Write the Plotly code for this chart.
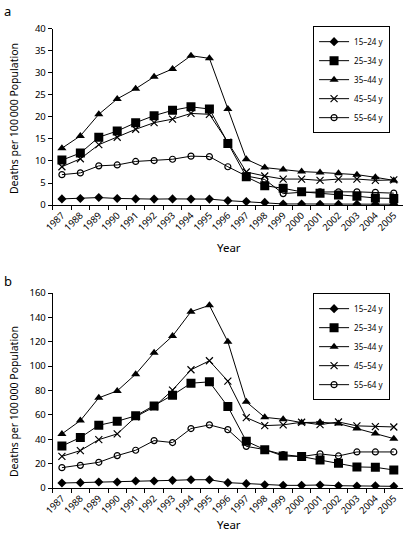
import plotly.graph_objects as go

years = [str(y) for y in range(1987, 2006)]
groups = ["15\u201324 y", "25\u201334 y", "35\u201344 y", "45\u201354 y", "55\u201364 y"]

# Panel a
a_15_24 = [1.4, 1.5, 1.7, 1.5, 1.4, 1.35, 1.4, 1.35, 1.35, 1.0, 0.8, 0.6, 0.25, 0.25, 0.2, 0.2, 0.2, 0.2, 0.2]
a_25_34 = [10.2, 11.8, 15.4, 16.8, 18.7, 20.3, 21.5, 22.3, 21.8, 14.0, 6.4, 4.4, 3.8, 3.0, 2.7, 2.3, 2.0, 1.6, 1.5]
a_35_44 = [12.9, 15.7, 20.6, 24.1, 26.4, 29.1, 30.9, 33.9, 33.3, 21.8, 10.4, 8.5, 8.1, 7.6, 7.4, 7.2, 6.9, 6.3, 5.6]
a_45_54 = [8.7, 10.5, 13.7, 15.4, 17.2, 18.7, 19.5, 20.8, 20.6, 14.3, 7.5, 6.6, 5.9, 5.9, 5.6, 5.9, 5.9, 5.6, 5.7]
a_55_64 = [6.9, 7.3, 8.9, 9.1, 9.9, 10.1, 10.4, 11.1, 11.0, 8.7, 6.6, 5.8, 2.6, 2.9, 3.0, 3.0, 3.0, 2.9, 2.7]

# Panel b
b_15_24 = [4.1, 4.4, 4.9, 4.9, 5.8, 5.8, 6.3, 6.8, 6.8, 4.4, 3.6, 2.7, 2.2, 2.2, 2.5, 1.9, 1.6, 1.9, 1.4]
b_25_34 = [34.5, 41.4, 51.5, 54.8, 59.2, 67.4, 76.2, 86.0, 87.1, 66.8, 38.4, 31.5, 26.3, 25.8, 23.0, 20.3, 17.3, 17.0, 14.8]
b_35_44 = [44.4, 55.3, 74.0, 79.7, 93.4, 111.0, 124.7, 144.7, 149.9, 120.0, 70.7, 58.0, 56.4, 53.7, 54.0, 52.9, 48.8, 44.7, 40.5]
b_45_54 = [26.0, 30.7, 39.7, 44.4, 58.4, 66.6, 80.3, 97.0, 104.4, 87.7, 57.8, 51.2, 51.8, 54.0, 52.0, 54.2, 51.0, 50.4, 50.1]
b_55_64 = [16.7, 18.6, 21.1, 26.6, 31.0, 38.9, 37.3, 48.8, 51.8, 47.9, 34.2, 31.5, 27.4, 25.8, 28.0, 26.3, 29.6, 29.6, 29.6]

a_ticks = [0, 5, 10, 15, 20, 25, 30, 35, 40]
b_ticks = [0, 20, 40, 60, 80, 100, 120, 140, 160]

styles = [
    dict(symbol="diamond", size=7, color="black"),
    dict(symbol="square", size=9, color="black"),
    dict(symbol="triangle-up", size=8, color="black"),
    dict(symbol="x-thin", size=7, color="black", line=dict(width=1.2, color="black")),
    dict(symbol="circle-open", size=6, color="black", line=dict(width=1.2, color="black")),
]

FONT = "Noto Sans"
fig = go.Figure()

for data, xa, ya, lg in [
    ([a_15_24, a_25_34, a_35_44, a_45_54, a_55_64], "x", "y", "legend"),
    ([b_15_24, b_25_34, b_35_44, b_45_54, b_55_64], "x2", "y2", "legend2"),
]:
    for name, vals, st in zip(groups, data, styles):
        fig.add_trace(go.Scatter(
            x=years, y=vals, name=name, mode="lines+markers",
            line=dict(color="black", width=1),
            marker=st, xaxis=xa, yaxis=ya, legend=lg,
        ))

xcommon = dict(
    type="category", categoryorder="array", categoryarray=years,
    range=[-0.5, 18.5], domain=[0.1301, 0.9951], automargin=False,
    showline=True, linecolor="black", linewidth=1,
    ticks="outside", ticklen=4, tickcolor="black", tickson="boundaries",
    tickangle=-45, showgrid=False, zeroline=False,
    tickfont=dict(family=FONT, size=9.5, color="black"),
)
ycommon = dict(
    showline=True, linecolor="black", linewidth=1, automargin=False,
    ticks="outside", ticklen=4, tickcolor="black",
    showgrid=False, zeroline=False,
    tickfont=dict(family=FONT, size=9.5, color="black"),
)

legcommon = dict(xanchor="left", yanchor="top",
                 bordercolor="black", borderwidth=1, bgcolor="white",
                 font=dict(family=FONT, size=8, color="black"),
                 tracegroupgap=0, itemwidth=30)

title_font = dict(family=FONT, size=10.5, color="black")

fig.update_layout(
    width=405, height=534,
    margin=dict(l=0, r=0, t=0, b=0),
    paper_bgcolor="white", plot_bgcolor="white",
    font=dict(family=FONT, color="black"),
    xaxis=dict(xcommon, anchor="y"),
    xaxis2=dict(xcommon, anchor="y2"),
    yaxis=dict(ycommon, domain=[0.616, 0.946], range=[0, 40], tickvals=a_ticks, anchor="x"),
    yaxis2=dict(ycommon, domain=[0.0861, 0.4513], range=[0, 160], tickvals=b_ticks, anchor="x2"),
    legend=dict(legcommon, x=0.773, y=0.951),
    legend2=dict(legcommon, x=0.773, y=0.451),
    showlegend=True,
    annotations=[
        dict(text="a", x=0.005, y=1.0, xref="paper", yref="paper", xanchor="left", yanchor="top",
             showarrow=False, font=dict(family=FONT, size=13, color="black")),
        dict(text="b", x=0.005, y=0.4944, xref="paper", yref="paper", xanchor="left", yanchor="top",
             showarrow=False, font=dict(family=FONT, size=13, color="black")),
        dict(text="Deaths per 100\u2009000 Population", x=0.0346, y=0.777, xref="paper", yref="paper",
             textangle=-90, xanchor="center", yanchor="middle", showarrow=False, font=title_font),
        dict(text="Deaths per 100\u2009000 Population", x=0.0346, y=0.247, xref="paper", yref="paper",
             textangle=-90, xanchor="center", yanchor="middle", showarrow=False, font=title_font),
        dict(text="Year", x=0.566, y=0.536, xref="paper", yref="paper",
             xanchor="center", yanchor="middle", showarrow=False, font=dict(family=FONT, size=11.5, color="black")),
        dict(text="Year", x=0.566, y=0.017, xref="paper", yref="paper",
             xanchor="center", yanchor="middle", showarrow=False, font=dict(family=FONT, size=11.5, color="black")),
    ],
)

fig.write_html("out.html", config={"displayModeBar": False},
               post_script="document.body.style.margin='0';document.body.style.overflow='hidden';")
